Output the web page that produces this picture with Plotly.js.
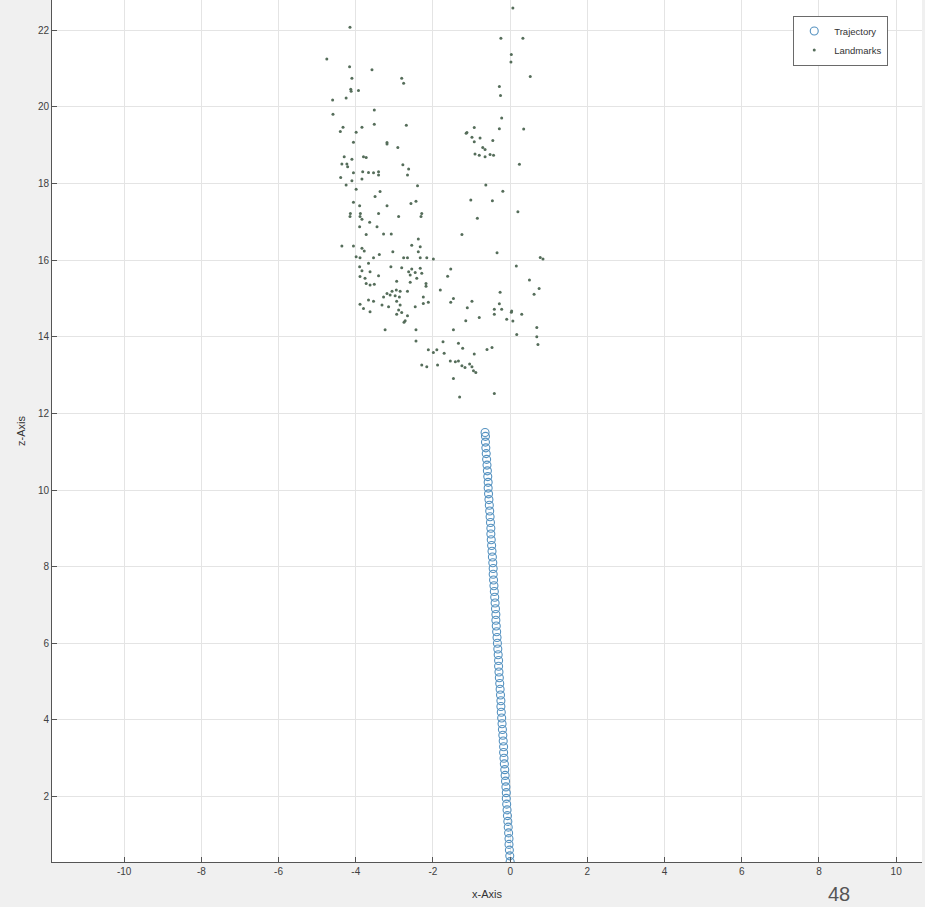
<!DOCTYPE html>
<html>
<head>
<meta charset="utf-8">
<script src="https://cdn.plot.ly/plotly-3.0.1.min.js"></script>
<style>html,body{margin:0;padding:0;background:#f0f0f0;}#chart{width:925px;height:907px;}</style>
</head>
<body>
<div id="chart"></div>
<script>
// Trajectory (camera positions)
const trajX = [0,-0.01,-0.02,-0.03,-0.03,-0.04,-0.05,-0.06,-0.07,-0.08,-0.09,-0.10,-0.10,-0.11,-0.12,-0.13,-0.14,-0.15,-0.16,-0.17,-0.17,-0.18,-0.19,-0.20,-0.21,-0.22,-0.23,-0.24,-0.24,-0.25,-0.26,-0.27,-0.28,-0.29,-0.30,-0.30,-0.31,-0.32,-0.33,-0.34,-0.35,-0.36,-0.37,-0.37,-0.38,-0.39,-0.40,-0.41,-0.42,-0.43,-0.44,-0.44,-0.45,-0.46,-0.47,-0.48,-0.49,-0.50,-0.50,-0.51,-0.52,-0.53,-0.54,-0.55,-0.56,-0.57,-0.57,-0.58,-0.59,-0.60,-0.61,-0.62,-0.63,-0.64,-0.64,-0.65];
const trajZ = [0.30,0.45,0.60,0.75,0.90,1.05,1.20,1.35,1.50,1.65,1.80,1.95,2.10,2.25,2.40,2.55,2.70,2.85,3.00,3.15,3.30,3.45,3.60,3.75,3.90,4.05,4.20,4.35,4.50,4.65,4.80,4.95,5.10,5.25,5.40,5.55,5.70,5.85,6.00,6.15,6.30,6.45,6.60,6.75,6.90,7.05,7.20,7.35,7.50,7.65,7.80,7.95,8.10,8.25,8.40,8.55,8.70,8.85,9.00,9.15,9.30,9.45,9.60,9.75,9.90,10.05,10.20,10.35,10.50,10.65,10.80,10.95,11.10,11.25,11.40,11.50];

// Landmarks
const lmX = [
-4.15,-4.75,-4.16,-3.58,-4.10,-2.81,-2.76,-4.13,-4.12,-3.93,-4.25,-4.60,-3.52,-4.59,-3.52,-2.69,-4.33,-4.40,-3.84,-3.99,-4.06,-3.19,-3.19,-2.91,-4.30,-4.10,-3.80,-3.73,-4.36,-4.23,-4.21,-4.06,-3.82,-3.67,-3.54,-3.41,-3.41,-2.78,-2.63,-2.66,-4.39,-4.10,-3.84,-4.25,-3.99,-2.40,-3.37,-3.50,-4.06,-3.90,-3.19,-2.57,-2.44,-4.14,-3.88,-3.41,-2.29,
0.07,-0.24,0.33,0.03,0.02,0.52,-0.28,-0.25,-0.22,-0.28,0.35,-0.93,-1.12,-1.14,-0.99,-0.78,-0.93,-0.45,-0.71,-0.65,-0.91,-0.80,-0.65,-0.52,-0.43,0.24,-0.63,-0.19,-1.02,-0.46,0.20,
-4.15,-3.89,-3.84,-3.64,-2.89,-2.31,-3.90,-3.45,-3.73,-3.28,-3.08,-2.38,-4.36,-4.06,-3.84,-2.55,-2.33,-3.78,-3.04,-2.38,-3.39,-3.99,-3.89,-3.54,-2.76,-2.66,-2.33,-2.16,-1.99,-3.67,-3.90,-3.09,-2.81,-2.55,-2.33,-3.84,-3.63,-2.63,-2.46,-2.29,-3.89,-3.76,-3.41,-2.59,-2.42,-3.73,-3.63,-3.52,-2.59,-2.18,-2.18,-2.94,-3.06,-2.95,-2.85,-2.66,-3.19,-3.11,-2.98,-2.87,-3.28,-2.25,-3.67,-3.54,-2.94,-2.12,-3.89,-3.32,-3.15,-2.85,-2.25,-3.80,-2.89,-3.63,-2.81,-2.46,-2.94,-2.66,-2.75,-2.72,-3.24,-2.44,-2.44,-2.12,-1.99,-1.90,-2.29,-2.16,-1.88,
-0.85,-1.25,-0.34,0.78,0.85,0.16,-1.54,-1.62,0.50,0.75,0.62,-0.26,-1.81,-1.47,-1.54,-0.99,-0.28,-1.11,-0.41,-0.22,-0.41,0.03,0.04,0.30,-0.09,0.07,-0.80,-1.15,0.69,-1.47,0.17,0.69,0.72,-1.74,-1.34,-1.23,-0.60,-0.47,-0.93,-1.71,-1.55,-1.42,-1.34,-1.25,-1.17,-1.05,-0.99,-0.95,-0.89,-1.47,-1.31,-0.41
];
const lmZ = [
22.08,21.25,21.05,20.97,20.75,20.75,20.62,20.46,20.41,20.43,20.23,20.18,19.92,19.81,19.55,19.52,19.47,19.36,19.47,19.34,19.08,19.07,19.03,18.94,18.70,18.63,18.70,18.68,18.51,18.51,18.44,18.28,18.31,18.29,18.28,18.31,18.22,18.49,18.38,18.22,18.16,18.07,18.12,17.96,17.85,17.94,17.79,17.66,17.51,17.42,17.42,17.48,17.54,17.22,17.22,17.22,17.22,
22.58,21.79,21.79,21.37,21.17,20.79,20.53,20.30,19.71,19.43,19.42,19.46,19.33,19.31,19.21,19.19,19.09,19.12,18.94,18.89,18.77,18.74,18.70,18.76,18.74,18.50,17.96,17.80,17.57,17.55,17.26,
17.14,17.14,17.07,16.99,17.14,17.14,16.87,16.87,16.67,16.68,16.68,16.55,16.37,16.37,16.31,16.39,16.35,16.24,16.22,16.22,16.15,16.09,16.06,16.06,16.06,16.06,16.06,16.06,16.03,15.92,15.83,15.83,15.80,15.77,15.79,15.72,15.70,15.70,15.68,15.66,15.57,15.53,15.59,15.61,15.53,15.39,15.35,15.37,15.42,15.39,15.32,15.45,15.19,15.22,15.19,15.19,15.13,15.09,15.07,15.04,15.04,15.04,14.96,14.93,14.93,14.90,14.85,14.83,14.78,14.83,14.87,14.74,14.70,14.65,14.63,14.78,14.59,14.55,14.38,14.42,14.18,14.18,13.89,13.66,13.59,13.66,13.26,13.22,13.26,
17.09,16.67,16.19,16.07,16.03,15.85,15.77,15.58,15.48,15.26,15.11,15.16,15.22,15.00,14.90,14.93,14.86,14.76,14.72,14.72,14.59,14.64,14.67,14.59,14.46,14.41,14.50,14.42,14.24,14.18,14.06,14.00,13.80,13.87,13.83,13.70,13.67,13.72,13.55,13.57,13.37,13.35,13.37,13.24,13.20,13.29,13.22,13.11,13.07,12.91,12.43,12.52
];

const xTicks = [-10,-8,-6,-4,-2,0,2,4,6,8,10];
const zTicks = [2,4,6,8,10,12,14,16,18,20,22];

const traces = [
  {x: trajX, y: trajZ, type: 'scatter', mode: 'markers', name: 'Trajectory',
   marker: {symbol: 'circle-open', size: 8, color: '#5592c0', line: {width: 1.1, color: '#5592c0'}}},
  {x: lmX, y: lmZ, type: 'scatter', mode: 'markers', name: 'Landmarks',
   marker: {symbol: 'circle', size: 3, color: '#556d5a'}}
];

const fam = 'Liberation Sans, Arial, sans-serif';
const axisFont = {family: fam, size: 10, color: '#404040'};

const layout = {
  width: 925, height: 907,
  paper_bgcolor: '#f0f0f0', plot_bgcolor: '#ffffff',
  margin: {l: 52, r: 3, t: 0, b: 45},
  showlegend: true,
  legend: {x: 0.852, y: 0.982, xanchor: 'left', yanchor: 'top',
    bgcolor: '#ffffff', bordercolor: '#6a6a6a', borderwidth: 1,
    font: {family: fam, size: 9.5, color: '#333'},
    itemwidth: 30, tracegroupgap: 0},
  xaxis: {range: [-11.87, 10.67], tickvals: xTicks, ticktext: xTicks.map(String),
    showgrid: true, gridcolor: '#e4e4e4', zeroline: false,
    showline: true, linecolor: '#555', linewidth: 1,
    ticks: 'inside', ticklen: 5, tickcolor: '#555',
    tickfont: axisFont,
    title: {text: 'x-Axis', font: {family: fam, size: 11, color: '#333'}, standoff: 14}},
  yaxis: {range: [0.29, 22.79], tickvals: zTicks, ticktext: zTicks.map(String),
    showgrid: true, gridcolor: '#e4e4e4', zeroline: false,
    showline: true, linecolor: '#555', linewidth: 1,
    ticks: 'inside', ticklen: 5, tickcolor: '#555',
    tickfont: axisFont,
    title: {text: 'z-Axis', font: {family: fam, size: 11, color: '#333'}, standoff: 10}},
  annotations: [
    {text: '48', xref: 'paper', yref: 'paper', x: 0.905, y: -0.037, xanchor: 'center', yanchor: 'middle',
     showarrow: false, font: {family: fam, size: 20, color: '#555'}}
  ]
};

Plotly.newPlot('chart', traces, layout, {displayModeBar: false, staticPlot: true});
</script>
</body>
</html>
